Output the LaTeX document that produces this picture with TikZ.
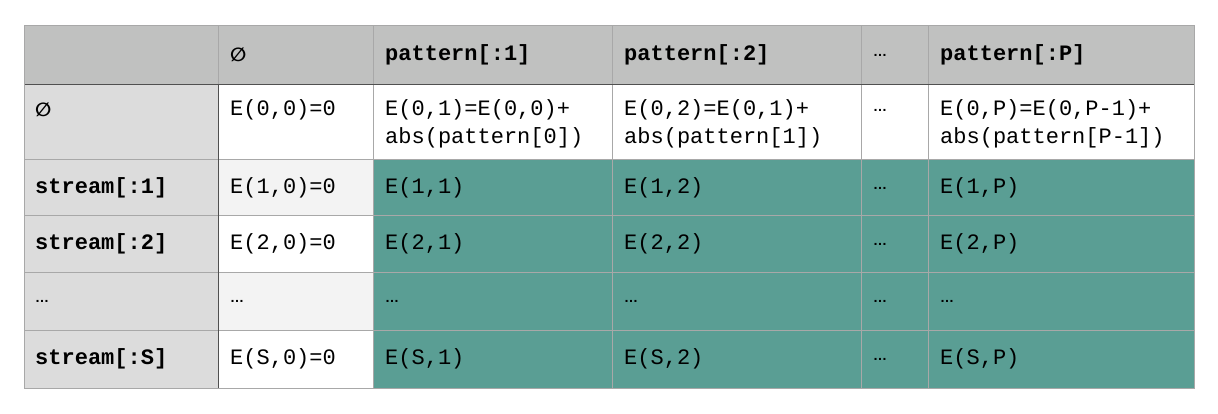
\documentclass[tikz,border=0pt]{standalone}
\usepackage{fontspec}
\setmonofont{Liberation Mono}
\newfontfamily\symfont{DejaVu Sans}
\newfontfamily\dotsfont{Liberation Sans}

\definecolor{headgray}{RGB}{192,193,192}
\definecolor{sidegray}{RGB}{220,220,220}
\definecolor{stripegray}{RGB}{243,243,243}
\definecolor{cellteal}{RGB}{90,158,148}
\definecolor{gridgray}{RGB}{168,168,168}
\definecolor{rulegray}{RGB}{80,80,80}

\newcommand{\emptysym}{{\symfont\fontsize{19}{19}\selectfont ∅}}
\newcommand{\ellip}{{\dotsfont\bfseries\fontsize{14}{14}\selectfont …}}

\begin{document}
\begin{tikzpicture}[x=1pt, y=-1pt,
    cell/.style={anchor=west, inner sep=0pt, align=left, font=\ttfamily\fontsize{22}{28}\selectfont},
    headcell/.style={cell, font=\ttfamily\bfseries\fontsize{22}{28}\selectfont}]

        % page
        \useasboundingbox (0,0) rectangle (1218,414);

        % Fills
        \fill[headgray] (24,26) rectangle (1194,85);
        \fill[sidegray] (24,85) rectangle (218,388);
        \fill[white] (218,85) rectangle (1194,160);
        \fill[white] (218,160) rectangle (373,388);
        \fill[stripegray] (218,160) rectangle (373,216);
        \fill[stripegray] (218,272) rectangle (373,330);
        \fill[cellteal] (373,160) rectangle (1194,388);

        % Grid
        \foreach \y in {160, 216, 272, 330}
            \draw[gridgray, line width=1pt] (24,\y) -- (1194,\y);
        \foreach \x in {373, 612, 861, 928}
            \draw[gridgray, line width=1pt] (\x,26) -- (\x,388);
        \draw[gridgray, line width=1pt] (218,26) -- (218,85);
        \draw[rulegray, line width=1pt] (218,85) -- (218,388);
        \draw[rulegray, line width=1pt] (24,85) -- (1194,85);
        \draw[gridgray, line width=1pt] (24,26) rectangle (1194,388);

        % Header row
        \node[headcell] (h1) at (230,55) {\emptysym};
        \node[headcell] (h2) at (385,55) {pattern[:1]};
        \node[headcell] (h3) at (624,55) {pattern[:2]};
        \node[headcell] (h4) at (873,55) {\ellip};
        \node[headcell] (h5) at (940,55) {pattern[:P]};

        % Row labels
        \node[headcell] (r0) at (35,110) {\emptysym};
        \node[headcell] (r1) at (35,188) {stream[:1]};
        \node[headcell] (r2) at (35,244) {stream[:2]};
        \node[headcell] (r3) at (35,301) {\ellip};
        \node[headcell] (r4) at (35,359) {stream[:S]};

        % First row
        \node[cell] (e00) at (230,110) {E(0,0)=0};
        \node[cell] (e01) at (385,124) {E(0,1)=E(0,0)+\\abs(pattern[0])};
        \node[cell] (e02) at (624,124) {E(0,2)=E(0,1)+\\abs(pattern[1])};
        \node[cell] (e03) at (873,110) {\ellip};
        \node[cell] (e0P) at (940,124) {E(0,P)=E(0,P-1)+\\abs(pattern[P-1])};

        % Remaining rows
        \foreach \i/\y in {1/188, 2/244, S/359} {
            \node[cell] (e\i0) at (230,\y) {E(\i,0)=0};
            \node[cell] (e\i1) at (385,\y) {E(\i,1)};
            \node[cell] (e\i2) at (624,\y) {E(\i,2)};
            \node[cell] (e\i3) at (873,\y) {\ellip};
            \node[cell] (e\i P) at (940,\y) {E(\i,P)};
        }
        \foreach \x/\n in {230/0, 385/1, 624/2, 873/3, 940/P}
            \node[cell] (ed\n) at (\x,301) {\ellip};

\end{tikzpicture}
\end{document}
